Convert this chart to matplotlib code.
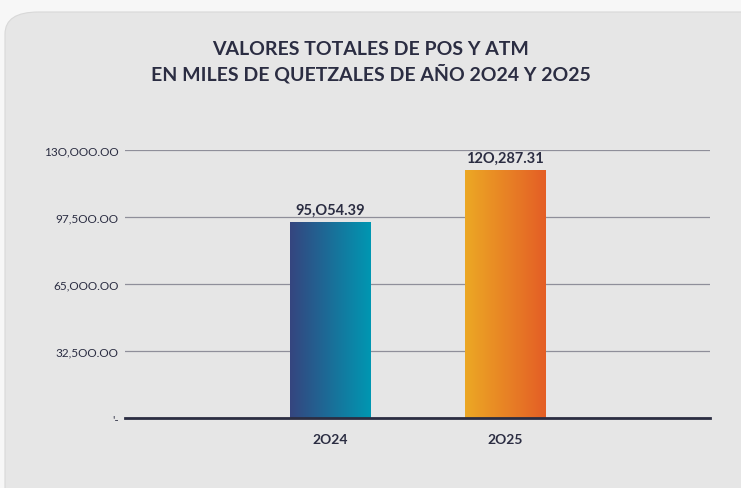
import numpy as np
import matplotlib
matplotlib.use("Agg")
import matplotlib.pyplot as plt
from matplotlib.colors import LinearSegmentedColormap
from matplotlib.patches import FancyBboxPatch

years = ["2O24", "2O25"]
values = [95054.39, 120287.31]
value_labels = ["95,O54.39", "12O,287.31"]
ytick_vals = [0, 32500, 65000, 97500, 130000]
ytick_labels = ["'-", "32,5OO.OO", "65,OOO.OO", "97,5OO.OO", "13O,OOO.OO"]
title = "VALORES TOTALES DE POS Y ATM\nEN MILES DE QUETZALES DE AÑO 2O24 Y 2O25"

gradients = [("#35457f", "#0097b2"), ("#eca824", "#e45e26")]
dark = "#2b2d42"

plt.rcParams['font.family'] = ['Lato', 'DejaVu Sans']

W, H = 741, 489
fig = plt.figure(figsize=(W / 100, H / 100), dpi=100, facecolor="#f7f7f7")

# rounded panel behind everything
panel = FancyBboxPatch((5 / W, 1 - 13 / H - 1.05), 1.05, 1.05,
                       boxstyle="round,pad=0,rounding_size=0.045",
                       transform=fig.transFigure, facecolor="#e6e6e6",
                       edgecolor="#d8d8d8", linewidth=0.8, zorder=-5)
fig.patches.append(panel)

ax = fig.add_axes([125 / W, 1 - 419 / H, 585 / W, 268 / H], zorder=2)
ax.set_facecolor("none")

x = np.arange(len(years))
bars = ax.bar(x, values, width=0.457, color="none", zorder=3)
ax.set_xlim(-1.17, 2.17)
ax.set_ylim(0, 130000)

for b, (c0, c1) in zip(bars, gradients):
    cmap = LinearSegmentedColormap.from_list("g", [c0, c1])
    grad = np.linspace(0, 1, 256).reshape(1, -1)
    x0, y0 = b.get_x(), b.get_y()
    im = ax.imshow(grad, cmap=cmap, aspect="auto", zorder=3,
                   extent=[x0, x0 + b.get_width(), y0, y0 + b.get_height()])
    im.set_clip_path(b)

for b, lab in zip(bars, value_labels):
    ax.text(b.get_x() + b.get_width() / 2, b.get_height() + 2500, lab,
            ha="center", va="bottom", fontsize=10.5, fontweight="bold", color=dark)

ax.set_yticks(ytick_vals)
ax.set_yticklabels(ytick_labels)
ax.set_xticks(x)
ax.set_xticklabels(years, fontweight="bold")
ax.tick_params(axis="y", length=0, pad=4.5, labelsize=8.5, labelcolor=dark)
ax.tick_params(axis="x", length=0, pad=11, labelsize=10, labelcolor=dark)
ax.grid(axis="y", color="#8f8f9a", linewidth=0.9, zorder=1)
ax.set_axisbelow(True)
for s in ["top", "right", "left"]:
    ax.spines[s].set_visible(False)
ax.spines["bottom"].set_color(dark)
ax.spines["bottom"].set_linewidth(2)
ax.spines["bottom"].set_zorder(4)

fig.text(371 / W, 1 - 62 / H, title, ha="center", va="center", fontsize=14,
         fontweight="bold", color=dark, linespacing=1.35)

fig.savefig("out.png", dpi=100, facecolor=fig.get_facecolor())
